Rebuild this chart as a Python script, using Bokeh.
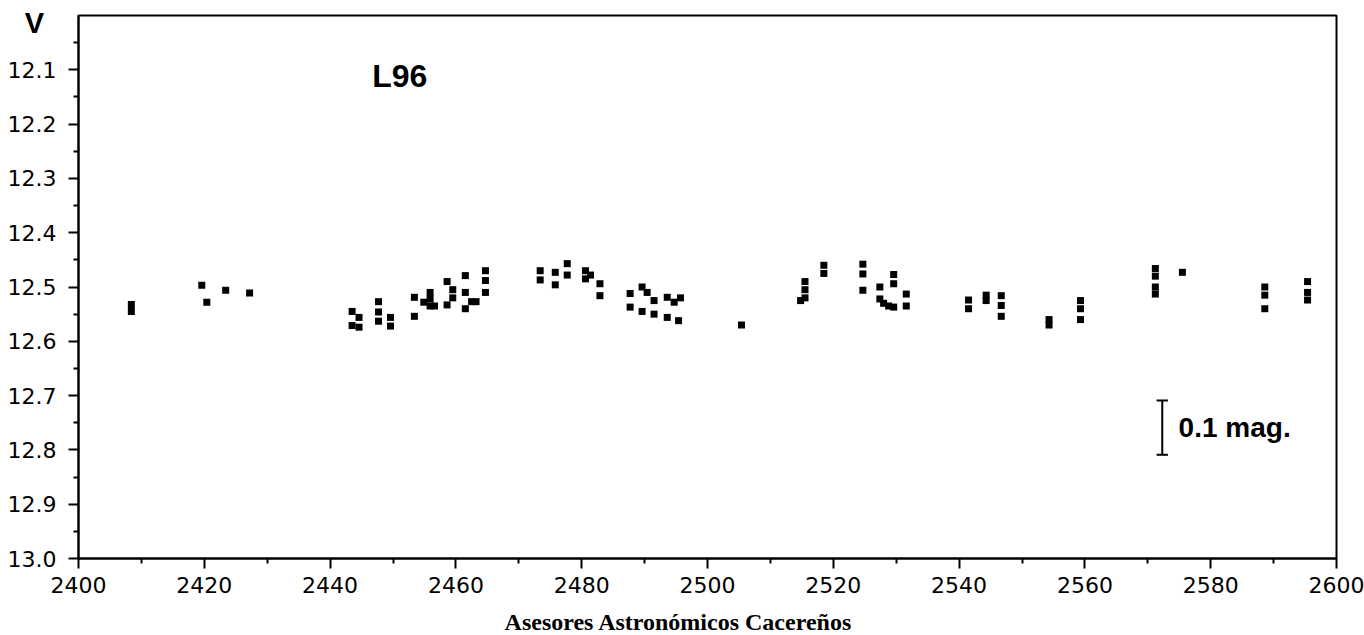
from bokeh.plotting import figure
from bokeh.models import Range1d, FixedTicker, PrintfTickFormatter, Label, ColumnDataSource
from bokeh.embed import file_html
from bokeh.resources import INLINE

# ---- data (JD - 2450000, V magnitude) ----
jd = [2408.4, 2408.4,
      2419.6, 2420.4, 2423.4, 2427.2,
      2443.5, 2443.5, 2444.6, 2444.6,
      2447.7, 2447.7, 2447.7, 2449.6, 2449.6,
      2453.4, 2453.4, 2454.9, 2455.9, 2455.9, 2455.9, 2456.6,
      2458.6, 2458.6, 2459.5, 2459.5,
      2461.5, 2461.5, 2461.5, 2462.5, 2463.2,
      2464.7, 2464.7, 2464.7,
      2473.4, 2473.4, 2475.8, 2475.8, 2477.7, 2477.7,
      2480.6, 2480.6, 2481.4, 2482.9, 2482.9,
      2487.7, 2487.7, 2489.6, 2489.6, 2490.4, 2491.5, 2491.5,
      2493.6, 2493.6, 2494.7, 2495.4, 2495.7,
      2505.4,
      2514.8, 2515.5, 2515.5, 2515.5, 2518.5, 2518.5,
      2524.7, 2524.7, 2524.7, 2527.4, 2527.4, 2528.0, 2528.8,
      2529.6, 2529.6, 2529.6, 2531.6, 2531.6,
      2541.5, 2541.5, 2544.3, 2544.3, 2546.7, 2546.7, 2546.7,
      2554.3, 2554.3, 2559.3, 2559.3, 2559.3,
      2571.2, 2571.2, 2571.2, 2571.2, 2575.5,
      2588.6, 2588.6, 2588.6, 2595.4, 2595.4, 2595.4]
vmag = [12.532, 12.545,
        12.497, 12.528, 12.506, 12.511,
        12.545, 12.571, 12.556, 12.574,
        12.527, 12.546, 12.563, 12.556, 12.572,
        12.519, 12.554, 12.528, 12.510, 12.522, 12.535, 12.535,
        12.490, 12.533, 12.505, 12.520,
        12.479, 12.510, 12.540, 12.527, 12.527,
        12.470, 12.488, 12.510,
        12.470, 12.487, 12.473, 12.496, 12.457, 12.478,
        12.470, 12.485, 12.478, 12.494, 12.516,
        12.512, 12.537, 12.500, 12.545, 12.510, 12.525, 12.550,
        12.519, 12.556, 12.528, 12.562, 12.520,
        12.570,
        12.525, 12.490, 12.505, 12.520, 12.460, 12.475,
        12.458, 12.476, 12.506, 12.500, 12.522, 12.530, 12.535,
        12.477, 12.494, 12.537, 12.513, 12.535,
        12.524, 12.540, 12.515, 12.525, 12.516, 12.534, 12.554,
        12.560, 12.570, 12.525, 12.540, 12.560,
        12.466, 12.480, 12.500, 12.513, 12.473,
        12.500, 12.515, 12.540, 12.490, 12.510, 12.524]

x_ticks = [2400, 2420, 2440, 2460, 2480, 2500, 2520, 2540, 2560, 2580, 2600]
x_minor = [2410, 2430, 2450, 2470, 2490, 2510, 2530, 2550, 2570, 2590]
y_ticks = [12.1, 12.2, 12.3, 12.4, 12.5, 12.6, 12.7, 12.8, 12.9, 13.0]
y_minor = [12.05, 12.15, 12.25, 12.35, 12.45, 12.55, 12.65, 12.75, 12.85, 12.95]

X_MIN, X_MAX = 2400, 2600
Y_TOP, Y_BOTTOM = 12.0, 13.0

star_name = "L96"
axis_title = "V"
scale_text = "0.1 mag."
scale_len = 0.1
scale_x = 2572.3
scale_top = 12.709
footer = "Asesores Astronómicos Cacereños"

# ---- layout: frame fills the canvas; the plot box sits inside it ----
W, H = 1364, 635
box_left, box_right, box_top, box_bottom = 78, 1336, 15, 558
xs = (box_right - box_left) / (X_MAX - X_MIN)
ys = (box_bottom - box_top) / (Y_BOTTOM - Y_TOP)
x_range = Range1d(X_MIN - box_left / xs, X_MAX + (W - box_right) / xs)
y_range = Range1d(Y_BOTTOM + (H - box_bottom) / ys, Y_TOP - box_top / ys)

p = figure(width=W, height=H, output_backend="svg", toolbar_location=None,
           x_range=x_range, y_range=y_range)
p.min_border = 0
p.min_border_left = 0
p.min_border_right = 0
p.min_border_top = 0
p.min_border_bottom = 0
p.background_fill_color = "white"
p.border_fill_color = "white"
p.outline_line_color = None
p.xgrid.visible = False
p.ygrid.visible = False

# plot box
p.quad(left=[X_MIN], right=[X_MAX], top=[Y_TOP], bottom=[Y_BOTTOM],
       fill_color=None, line_color="black", line_width=2)

for ax in (p.xaxis[0], p.yaxis[0]):
    ax.axis_line_color = "black"
    ax.axis_line_width = 2
    ax.major_tick_line_color = "black"
    ax.major_tick_line_width = 2
    ax.minor_tick_line_color = "black"
    ax.minor_tick_line_width = 2
    ax.major_tick_in = 0
    ax.major_tick_out = 10
    ax.minor_tick_in = 0
    ax.minor_tick_out = 5
    ax.major_label_text_font = "DejaVu Sans"
    ax.major_label_text_font_size = "22px"
    ax.major_label_text_color = "black"

p.xaxis.fixed_location = Y_BOTTOM
p.yaxis.fixed_location = X_MIN
p.xaxis.bounds = (X_MIN, X_MAX)
p.yaxis.bounds = (Y_TOP, Y_BOTTOM)
p.xaxis.ticker = FixedTicker(ticks=x_ticks, minor_ticks=x_minor)
p.yaxis.ticker = FixedTicker(ticks=y_ticks, minor_ticks=y_minor)
p.yaxis.formatter = PrintfTickFormatter(format="%.1f")
p.xaxis.major_label_standoff = 8
p.yaxis.major_label_standoff = 12

src = ColumnDataSource(dict(x=jd, y=vmag))
p.scatter("x", "y", source=src, marker="square", size=7, fill_color="black",
          line_color="black", line_width=0)

# scale bar
p.segment(x0=[scale_x], y0=[scale_top], x1=[scale_x], y1=[scale_top + scale_len],
          line_color="black", line_width=2)
p.segment(x0=[scale_x - 0.9, scale_x - 0.9], y0=[scale_top, scale_top + scale_len],
          x1=[scale_x + 0.9, scale_x + 0.9], y1=[scale_top, scale_top + scale_len],
          line_color="black", line_width=2)

p.add_layout(Label(x=scale_x + 2.6, y=scale_top + scale_len / 2, text=scale_text,
                   text_font="Liberation Sans", text_font_style="bold",
                   text_font_size="28px", text_baseline="middle", text_align="left",
                   text_color="black"))
p.add_layout(Label(x=2446.7, y=12.111, text=star_name,
                   text_font="Liberation Sans", text_font_style="bold",
                   text_font_size="32px", text_baseline="middle", text_align="left",
                   text_color="black"))
p.add_layout(Label(x=2393.0, y=12.014, text=axis_title,
                   text_font="Liberation Sans", text_font_style="bold",
                   text_font_size="29px", text_baseline="middle", text_align="center",
                   text_color="black"))
p.add_layout(Label(x=2495.4, y=13.117, text=footer,
                   text_font="Liberation Serif", text_font_style="bold",
                   text_font_size="24px", text_baseline="middle", text_align="center",
                   text_color="black"))

open("out.html", "w").write(file_html(p, INLINE))
